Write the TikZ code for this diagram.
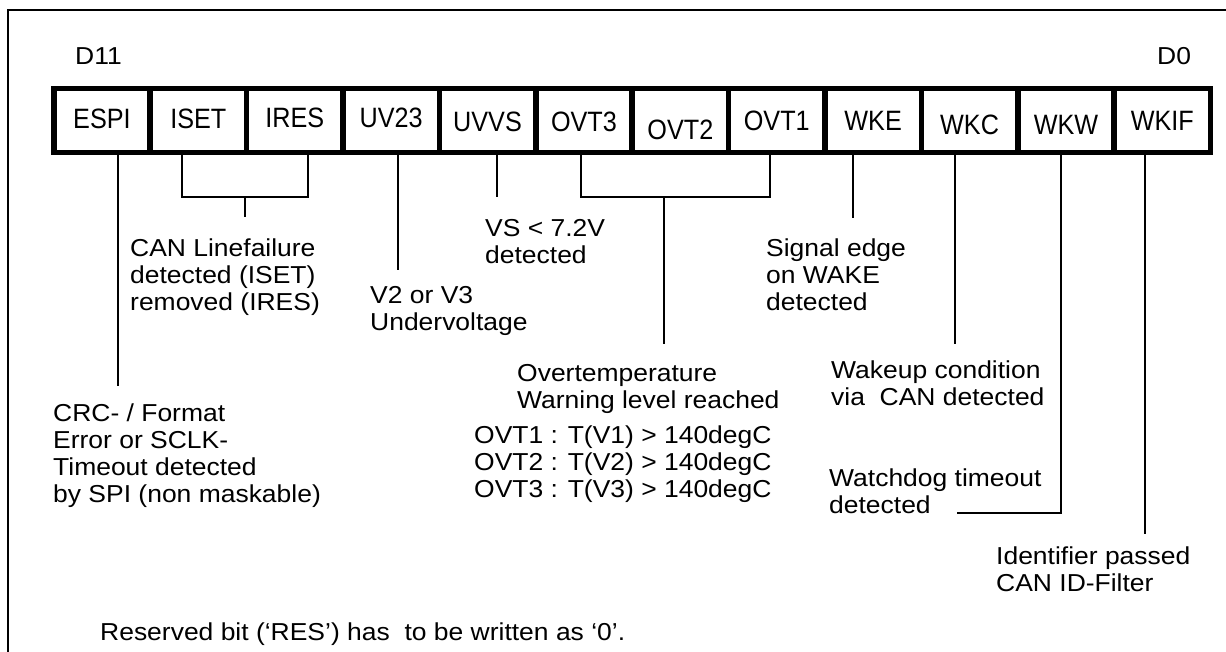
\documentclass[tikz,border=0pt]{standalone}
\usepackage{fontspec}
\setmainfont[FakeStretch=1.08]{Liberation Sans}
\newfontfamily\regfont[FakeStretch=0.9]{Liberation Sans}
\usetikzlibrary{calc}
\begin{document}
\begin{tikzpicture}[x=1pt,y=-1pt,
  txt/.style={anchor=north west, inner sep=0pt, align=left, font=\fontsize{24.5}{27}\selectfont},
  cell/.style={draw, line width=5.5pt, minimum width=96.4pt, minimum height=64pt, inner sep=0pt, anchor=north west},
  lbl/.style={inner sep=0pt, font=\regfont\fontsize{28}{30}\selectfont},
  conn/.style={line width=2pt},
  frame/.style={line width=2.2pt}]
\useasboundingbox (0,0) rectangle (1226,652);
\draw[frame] (1226,10) -- (8,10) -- (8,652);

\node[txt] (d11) at (75,47) {D11};
\node[txt] (d0) at (1157,47) {D0};

\foreach \i/\t/\dy in {0/ESPI/-2,1/ISET/-2,2/IRES/-3,3/UV23/-3,4/UVVS/1.5,5/OVT3/1.5,6/OVT2/9,7/OVT1/0,8/WKE/0,9/WKC/4,10/WKW/4,11/WKIF/0}{
  \node[cell] (c\i) at ({51+\i*96.4},86) {};
  \node[lbl] (l\i) at ($(c\i.center)+(0,\dy)$) {\t};
}

% ESPI
\draw[conn] ($(c0.south)+(15.8,0)$) -- ++(0,230);
% ISET / IRES bracket
\coordinate (b1) at ($(c1.south)+(-16.6,42)$);
\coordinate (b2) at ($(c2.south)+(13,42)$);
\draw[conn] ($(c1.south)+(-16.6,0)$) -- (b1) -- (b2) -- ($(c2.south)+(13,0)$);
\draw[conn] ($(b1)!0.5!(b2)$) -- ++(0,20);
% UV23
\draw[conn] ($(c3.south)+(6.6,0)$) -- ++(0,115);
% UVVS
\draw[conn] ($(c4.south)+(9.2,0)$) -- ++(0,42);
% OVT bracket
\coordinate (o1) at ($(c5.south)+(-3.2,42)$);
\coordinate (o2) at ($(c7.south)+(-7,42)$);
\draw[conn] ($(c5.south)+(-3.2,0)$) -- (o1) -- (o2) -- ($(c7.south)+(-7,0)$);
\draw[conn] ($(c6.south)+(-16.6,42)$) -- ++(0,146);
% WKE
\draw[conn] ($(c8.south)+(-20.4,0)$) -- ++(0,63);
% WKC
\draw[conn] ($(c9.south)+(-14.8,0)$) -- ++(0,188);
% WKW
\draw[conn] ($(c10.south)+(-5.2,0)$) -- ++(0,357) -- ++(-104,0);
% WKIF
\draw[conn] ($(c11.south)+(-17.6,0)$) -- ++(0,378);

\node[txt] (crc) at (53,404) {CRC- / Format\\Error or SCLK-\\Timeout detected\\by SPI (non maskable)};
\node[txt] (canlf) at (130,239) {CAN Linefailure\\detected (ISET)\\removed (IRES)};
\node[txt] (v2v3) at (370,286) {V2 or V3\\Undervoltage};
\node[txt] (vs) at (485,219) {VS < 7.2V\\detected};
\node[txt] (sig) at (766,239) {Signal edge\\on WAKE\\detected};
\node[txt] (ovt) at (517,364) {Overtemperature\\Warning level reached};
\node[txt] (ovtl) at (474,426) {OVT1 : T(V1) > 140degC\\OVT2 : T(V2) > 140degC\\OVT3 : T(V3) > 140degC};
\node[txt] (wkc) at (831,361) {Wakeup condition\\via\ \ CAN detected};
\node[txt] (wdg) at (829,469) {Watchdog timeout\\detected};
\node[txt] (idf) at (996,547) {Identifier passed\\CAN ID-Filter};
\node[txt] (res) at (100,623) {Reserved bit (‘RES’) has\ \ to be written as ‘0’.};
\end{tikzpicture}
\end{document}
